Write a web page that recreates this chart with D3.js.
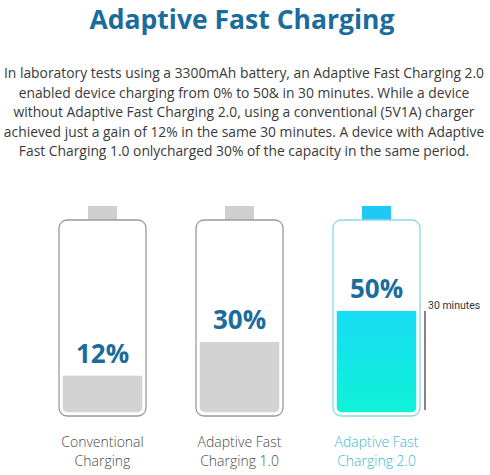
<!DOCTYPE html>
<html><head><meta charset="utf-8">
<script src="https://cdn.jsdelivr.net/npm/d3@7"></script>
<style>html,body{margin:0;padding:0;background:#fff;}svg{display:block;}</style>
</head><body>
<svg id="chart" width="490" height="475"></svg>
<script>
const categories = ["Conventional Charging", "Adaptive Fast Charging 1.0", "Adaptive Fast Charging 2.0"];
const labelLines = [["Conventional", "Charging"], ["Adaptive Fast", "Charging 1.0"], ["Adaptive Fast", "Charging 2.0"]];
const values = [12, 30, 50];
const valueLabels = ["12%", "30%", "50%"];
const title = "Adaptive Fast Charging";
const paragraph = [
  "In laboratory tests using a 3300mAh battery, an Adaptive Fast Charging 2.0",
  "enabled device charging from 0% to 50& in 30 minutes. While a device",
  "without Adaptive Fast Charging 2.0, using a conventional (5V1A) charger",
  "achieved just a gain of 12% in the same 30 minutes. A device with Adaptive",
  "Fast Charging 1.0 onlycharged 30% of the capacity in the same period."
];
const timeLabel = "30 minutes";

const svg = d3.select("#chart");
const W = 490;

// gradient
const defs = svg.append("defs");
const grad = defs.append("linearGradient").attr("id", "cyanGrad").attr("x1", 0).attr("y1", 0).attr("x2", 0).attr("y2", 1);
grad.append("stop").attr("offset", "0%").attr("stop-color", "#17dcf3");
grad.append("stop").attr("offset", "100%").attr("stop-color", "#0ff2d8");

// title
svg.append("text").attr("x", W / 2 - 3).attr("y", 28.5).attr("text-anchor", "middle")
  .attr("font-family", "Open Sans").attr("font-weight", 700).attr("font-size", 26.5)
  .attr("fill", "#1b6c9d").text(title);

// paragraph
const para = svg.append("g").attr("font-family", "Open Sans").attr("font-size", 13.85).attr("fill", "#3a3a3a").attr("text-anchor", "middle");
paragraph.forEach((l, i) => {
  para.append("text").attr("x", W / 2 - 1).attr("y", 78 + i * 19.5).text(l);
});

// scales
const x = d3.scaleBand().domain(categories).range([59, 420]).paddingInner(0.365).paddingOuter(0);
const bodyTop = 220, bodyBottom = 416;
const innerBottom = 412.5;
const y = d3.scalePow().exponent(0.71).domain([0, 100]).range([innerBottom, innerBottom - 166]);

const isHi = i => i === 2;
const g = svg.append("g");
categories.forEach((c, i) => {
  const bx = x(c), bw = x.bandwidth();
  const cx = bx + bw / 2;
  const grp = g.append("g");
  // cap
  grp.append("rect").attr("x", cx - 14.5).attr("y", 206).attr("width", 29).attr("height", 14)
    .attr("fill", isHi(i) ? "#20c8f6" : "#cfcfcf");
  // body
  grp.append("rect").attr("x", bx).attr("y", bodyTop).attr("width", bw).attr("height", bodyBottom - bodyTop)
    .attr("rx", 8).attr("fill", "#fff")
    .attr("stroke", isHi(i) ? "#8dd6e6" : "#9a9a9a").attr("stroke-width", 1.3);
  // clip for fill
  const cid = "clip" + i;
  defs.append("clipPath").attr("id", cid).append("rect")
    .attr("x", bx + 3.5).attr("y", bodyTop + 3.5).attr("width", bw - 7).attr("height", innerBottom - bodyTop - 3.5).attr("rx", 6);
  grp.append("rect").attr("clip-path", `url(#${cid})`)
    .attr("x", bx + 3.5).attr("y", y(values[i])).attr("width", bw - 7).attr("height", innerBottom - y(values[i]))
    .attr("fill", isHi(i) ? "url(#cyanGrad)" : "#d3d3d3");
  // value label
  grp.append("text").attr("x", cx).attr("y", y(values[i]) - 13).attr("text-anchor", "middle")
    .attr("font-family", "Open Sans").attr("font-weight", 700).attr("font-size", 26)
    .attr("fill", "#1b6c9d").text(valueLabels[i]);
  // category label
  labelLines[i].forEach((l, j) => {
    grp.append("text").attr("x", cx).attr("y", 447 + j * 19).attr("text-anchor", "middle")
      .attr("font-family", "Open Sans").attr("font-weight", 300).attr("font-size", 14)
      .attr("fill", isHi(i) ? "#3cb9d3" : "#4a4a4a").text(l);
  });
  if (isHi(i)) {
    grp.append("line").attr("x1", bx + bw + 5).attr("x2", bx + bw + 5)
      .attr("y1", y(values[i])).attr("y2", 410).attr("stroke", "#333").attr("stroke-width", 1.2);
    grp.append("text").attr("x", bx + bw + 8).attr("y", y(values[i]) - 2)
      .attr("font-family", "Roboto").attr("font-size", 10.5).attr("fill", "#333").text(timeLabel);
  }
});
</script>
</body></html>
